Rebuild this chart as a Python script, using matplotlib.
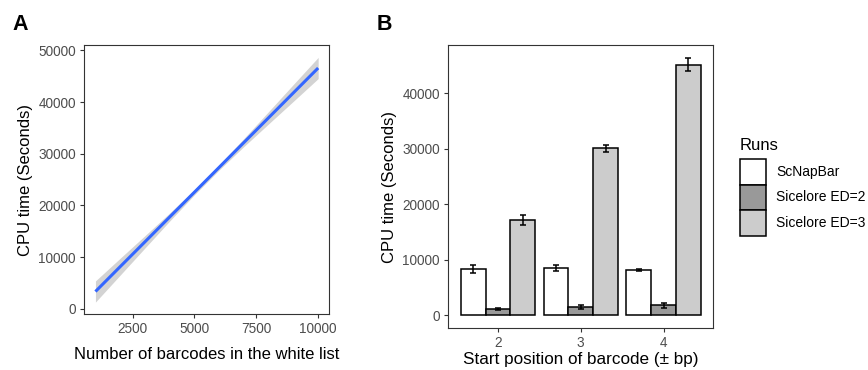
import matplotlib
matplotlib.use('Agg')
import matplotlib.pyplot as plt
from matplotlib.patches import Rectangle
import numpy as np

plt.rcParams['font.family'] = ['Liberation Sans', 'DejaVu Sans']

# ---------------- Panel A data (fitted lm line and its confidence band) ----------------
barcodes = [1000, 2000, 3000, 4000, 5000, 6000, 7000, 8000, 9000, 10000]
fit_cpu = [3350, 8160, 12960, 17770, 22570, 27380, 32190, 36990, 41800, 46600]
fit_lower = [1300, 6530, 11770, 16990, 22070, 26880, 31410, 35800, 40170, 44550]
fit_upper = [5400, 9790, 14150, 18550, 23070, 27880, 32970, 38180, 43430, 48650]
a_xticks = [2500, 5000, 7500, 10000]
a_yticks = [0, 10000, 20000, 30000, 40000, 50000]

# ---------------- Panel B data ----------------
positions = ['2', '3', '4']
runs = ['ScNapBar', 'Sicelore ED=2', 'Sicelore ED=3']
scnapbar = [8320, 8500, 8140]
scnapbar_err = [700, 500, 100]
ed2 = [1050, 1520, 1760]
ed2_err = [200, 350, 450]
ed3 = [17170, 30060, 45150]
ed3_err = [850, 600, 1200]
b_yticks = [0, 10000, 20000, 30000, 40000]
run_colors = ['#FFFFFF', '#999999', '#CCCCCC']

W, H = 868, 370
fig = plt.figure(figsize=(W / 100, H / 100), dpi=100)


def fx(px):
    return px / W


def fy(py):
    return 1 - py / H


tick_col = '#4D4D4D'
frame_col = '#333333'


def style_axes(ax):
    for s in ax.spines.values():
        s.set_color(frame_col)
        s.set_linewidth(0.8)
    ax.tick_params(axis='both', colors=frame_col, labelcolor=tick_col,
                   labelsize=9.8, length=3, width=0.8, pad=3)


# ---------------- Panel A ----------------
axA = fig.add_axes([fx(84.3), fy(314), fx(329.3) - fx(84.3), fy(45) - fy(314)])
axA.fill_between(barcodes, fit_lower, fit_upper, color='#D3D3D3', lw=0, zorder=1)
axA.plot(barcodes, fit_cpu, color='#3366FF', lw=2.2, zorder=2, solid_capstyle='butt')
axA.set_xlim(550, 10450)
axA.set_ylim(-1000, 51050)
axA.set_xticks(a_xticks)
axA.set_yticks(a_yticks)
style_axes(axA)
axA.set_xlabel('Number of barcodes in the white list', fontsize=12, labelpad=8)
axA.set_ylabel('CPU time (Seconds)', fontsize=12, labelpad=4)

# ---------------- Panel B ----------------
axB = fig.add_axes([fx(448.3), fy(328), fx(713.3) - fx(448.3), fy(45.3) - fy(328)])
x = np.arange(len(positions)) + 2
bw = 0.3
series = [(scnapbar, scnapbar_err), (ed2, ed2_err), (ed3, ed3_err)]
for i, (vals, errs) in enumerate(series):
    xs = x + (i - 1) * bw
    axB.bar(xs, vals, width=bw, color=run_colors[i], edgecolor='black',
            linewidth=1.1, zorder=2)
    axB.errorbar(xs, vals, yerr=errs, fmt='none', ecolor='black',
                 elinewidth=1.1, capsize=2.5, capthick=1.1, zorder=3)
axB.set_xlim(1.4, 4.6)
axB.set_ylim(-2316, 48636)
axB.set_xticks(x)
axB.set_xticklabels(positions)
axB.set_yticks(b_yticks)
style_axes(axB)
axB.set_xlabel('Start position of barcode (\u00b1 bp)', fontsize=12.3, labelpad=1.5)
axB.set_ylabel('CPU time (Seconds)', fontsize=12, labelpad=4)

# ---------------- Panel labels ----------------
fig.text(fx(12), fy(24.5), 'A', fontsize=15.5, fontweight='bold', va='center', ha='left')
fig.text(fx(377), fy(24.5), 'B', fontsize=15.5, fontweight='bold', va='center', ha='left')

# ---------------- Legend ----------------
fig.text(fx(740), fy(145), 'Runs', fontsize=12, va='center', ha='left')
key_w, key_h = 25.5, 25.5
for i, r in enumerate(runs):
    top = 159 + i * key_h
    fig.add_artist(Rectangle((fx(740), fy(top + key_h)), key_w / W, key_h / H,
                             transform=fig.transFigure, facecolor=run_colors[i],
                             edgecolor='black', linewidth=1.1))
    fig.text(fx(776.5), fy(top + key_h / 2), r, fontsize=10, va='center', ha='left')

fig.savefig('out.png', dpi=100)
